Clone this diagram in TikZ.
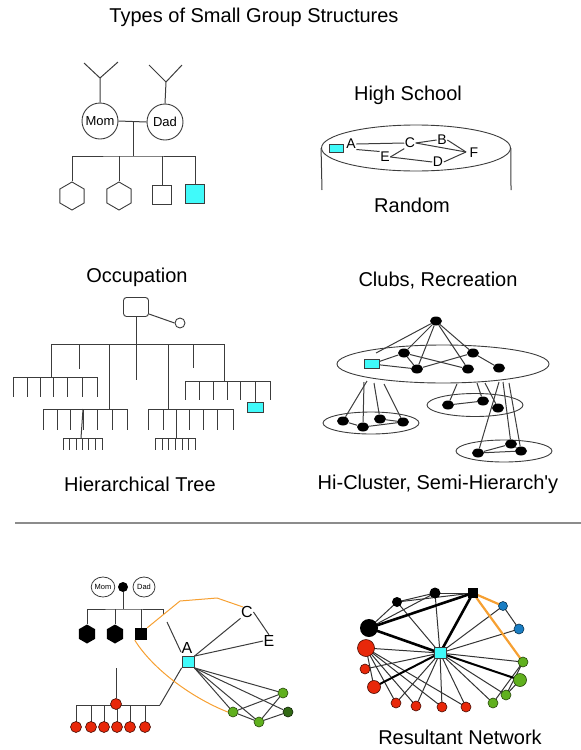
\documentclass[tikz,border=0pt]{standalone}
\usepackage{fontspec}
\setmainfont{Liberation Sans}
\usetikzlibrary{shapes.geometric}
\definecolor{cyb}{RGB}{64,250,250}
\definecolor{redn}{RGB}{232,40,10}
\definecolor{grn}{RGB}{96,176,30}
\definecolor{dgrn}{RGB}{50,105,20}
\definecolor{blun}{RGB}{25,125,195}
\definecolor{orn}{RGB}{246,160,50}
\definecolor{sepg}{RGB}{140,140,140}
\definecolor{lg}{RGB}{60,60,60}
\begin{document}
\begin{tikzpicture}[x=1pt,y=-1pt,
  ln/.style={draw=lg,line width=1pt},
  lbl/.style={font=\fontsize{20}{22}\selectfont,inner sep=0pt},
  pers/.style={circle,draw=lg,line width=0.9pt,minimum size=36pt,inner sep=0pt,font=\fontsize{13}{13}\selectfont},
  spers/.style={ellipse,draw=lg,line width=0.8pt,minimum width=22pt,minimum height=20pt,inner sep=0pt,font=\fontsize{7.5}{8}\selectfont},
  hexa/.style={regular polygon,regular polygon sides=6,shape border rotate=30,draw=lg,line width=0.9pt,minimum size=28pt,inner sep=0pt},
  bhexa/.style={regular polygon,regular polygon sides=6,shape border rotate=30,fill=black,minimum size=19pt,inner sep=0pt},
  sqr/.style={rectangle,draw=lg,line width=0.9pt,minimum size=19pt,inner sep=0pt},
  cbox/.style={rectangle,draw=lg,line width=0.8pt,fill=cyb,inner sep=0pt},
  let/.style={inner sep=0.5pt,font=\fontsize{14}{14}\selectfont},
  blet/.style={inner sep=0.5pt,font=\fontsize{16}{16}\selectfont},
  dotn/.style={ellipse,fill=black,minimum width=12pt,minimum height=9pt,inner sep=0pt},
  ell/.style={ellipse,draw=lg,line width=0.9pt,inner sep=0pt},
  rdot/.style={circle,draw=black!70!redn,line width=0.6pt,fill=redn,inner sep=0pt,minimum size=#1},
  gdot/.style={circle,draw=black!60!grn,line width=0.6pt,fill=grn,inner sep=0pt,minimum size=#1},
  bdot/.style={circle,draw=black!60!blun,line width=0.6pt,fill=blun,inner sep=0pt,minimum size=#1},
  kdot/.style={circle,fill=black,inner sep=0pt,minimum size=#1},
  thn/.style={draw=black!80,line width=1pt},
  thk/.style={draw=black,line width=2.6pt},
  orl/.style={draw=orn,line width=1pt},
  orthk/.style={draw=orn,line width=2.2pt}
]
\useasboundingbox (0,0) rectangle (581,750);

% ---------------- titles ----------------
\node[lbl] (title) at (254,17) {Types of Small Group Structures};
\node[lbl] (hs) at (408,95) {High School};
\node[lbl] (rnd) at (412,205) {Random};
\node[lbl] (occ) at (137,277) {Occupation};
\node[lbl] (clubs) at (438,281) {Clubs, Recreation};
\node[lbl] (htree) at (140,484) {Hierarchical Tree};
\node[lbl] (hic) at (438,484) {Hi-Cluster, Semi-Hierarch\textquotesingle y};
\node[lbl] (resn) at (460,737) {Resultant Network};

% ---------------- family ----------------
\node[pers] (mom) at (100,121) {Mom};
\node[pers] (dad) at (165,122) {Dad};
\coordinate (my) at (100,78);
\coordinate (myl) at (84,63);
\coordinate (myr) at (118,62);
\coordinate (dy) at (166,82);
\coordinate (dyl) at (149,65);
\coordinate (dyr) at (182,65);
\draw[ln] (mom.north) -- (my) -- (myl);
\draw[ln] (my) -- (myr);
\draw[ln] (dad.north) -- (dy) -- (dyl);
\draw[ln] (dy) -- (dyr);
\draw[ln] (mom.east) -- (dad.west);
\coordinate (mj) at (133,121);
\coordinate (sb) at (133,156);
\draw[ln] (mj) -- (sb);
\node[hexa] (h1) at (72,196) {};
\node[hexa] (h2) at (119,196) {};
\node[sqr] (s1) at (162,195) {};
\node[sqr,fill=cyb] (s2) at (195,194) {};
\draw[ln] (h1.north) |- (sb) -| (s2.north);
\draw[ln] (h2.north) -- (h2.north |- sb);
\draw[ln] (s1.north) -- (s1.north |- sb);

% ---------------- high school ----------------
\node[ell,minimum width=189pt,minimum height=46pt] (cyl) at (416,148) {};
\coordinate (cyll) at (322,190);
\coordinate (cylr) at (511,190);
\draw[ln] (cyl.west) -- (cyll);
\draw[ln] (cyl.east) -- (cylr);
\node[cbox,minimum width=14pt,minimum height=8pt] (hc) at (336,148) {};
\node[let] (A) at (351,144) {A};
\node[let] (C) at (410,143) {C};
\node[let] (B) at (442,140) {B};
\node[let] (E) at (385,157) {E};
\node[let] (D) at (438,162) {D};
\node[let] (F) at (474,153) {F};
\coordinate (fp) at (466,152);
\draw[ln] (A.east) -- (C.west);
\draw[ln] (A.south east) -- (E.north west);
\draw[ln] (E.east) -- (C.south west);
\draw[ln] (E.east) -- (D.west);
\draw[ln] (C.east) -- (B.west);
\draw[ln] (C.east) -- (fp);
\draw[ln] (B.east) -- (fp);
\draw[ln] (D.east) -- (fp);

% ---------------- occupation tree ----------------
\node[rectangle,rounded corners=3pt,draw=lg,line width=0.9pt,minimum width=25pt,minimum height=19pt,inner sep=0pt] (boss) at (136,307) {};
\node[circle,draw=lg,line width=0.9pt,minimum size=10pt,inner sep=0pt] (sec) at (180,323) {};
\draw[ln] (boss.east |- 0,314) -- (sec.west);
\draw[ln] (boss.south) -- (136,380);
\draw[ln] (51,344) -- (224,344);
\draw[ln] (51,344) -- (51,377);
\draw[ln] (79,344) -- (79,369);
\draw[ln] (109,344) -- (109,409);
\draw[ln] (168,344) -- (168,409);
\draw[ln] (193,344) -- (193,368);
\draw[ln] (224,344) -- (224,381);
% left level-2
\draw[ln] (13,377) -- (97,377);
\foreach \x in {13,27,40,53,67,82,97} \draw[ln] (\x,377) -- (\x,397);
% right level-2
\draw[ln] (185,381) -- (270,381);
\foreach \x in {185,199,213,227,240,270} \draw[ln] (\x,381) -- (\x,400);
\node[cbox,minimum width=16pt,minimum height=10pt] (ocy) at (255,407) {};
\draw[ln] (255,381) -- (ocy.north);
% mid-left
\draw[ln] (43,409) -- (127,409);
\foreach \x in {43,57,70,83,97,112,127} \draw[ln] (\x,409) -- (\x,430);
\draw[ln] (83,409) -- (81,438);
\draw[ln] (63,438) -- (102,438);
\foreach \x in {63,69,76,82,88,95,102} \draw[ln] (\x,438) -- (\x,450);
% mid-right
\draw[ln] (148,409) -- (233,409);
\foreach \x in {148,163,176,189,203,217,233} \draw[ln] (\x,409) -- (\x,430);
\draw[ln] (176,409) -- (176,438);
\draw[ln] (155,438) -- (195,438);
\foreach \x in {155,162,168,175,182,188,195} \draw[ln] (\x,438) -- (\x,450);

% ---------------- clubs ----------------
\node[ell,minimum width=212pt,minimum height=38pt] (big) at (443,364) {};
\node[ell,minimum width=96pt,minimum height=22pt] (cl1) at (371,423) {};
\node[ell,minimum width=96pt,minimum height=23pt] (cl2) at (475,405) {};
\node[ell,minimum width=96pt,minimum height=22pt] (cl3) at (504,451) {};
\node[dotn] (ct) at (436,321) {};
\node[cbox,minimum width=15pt,minimum height=9pt] (cc) at (372,364) {};
\node[dotn] (c1) at (404,353) {};
\node[dotn] (c2) at (473,353) {};
\node[dotn] (c3) at (417,369) {};
\node[dotn] (c4) at (468,369) {};
\node[dotn] (c5) at (499,368) {};
\coordinate (ca) at (376,353);
\draw[ln] (ct) -- (ca);
\foreach \n in {c1,c2,c3,c4} \draw[ln] (ct) -- (\n);
\draw[ln] (cc) -- (c1);
\draw[ln] (cc) -- (c3);
\draw[ln] (c1) -- (c3);
\draw[ln] (c1) -- (c4);
\draw[ln] (c3) -- (c2);
\draw[ln] (c2) -- (c5);
% left cluster
\node[dotn] (l1) at (343,421) {};
\node[dotn] (l2) at (363,427) {};
\node[dotn] (l3) at (380,419) {};
\node[dotn] (l4) at (403,422) {};
\coordinate (la) at (367,381); \coordinate (lb) at (364,382);
\coordinate (lc) at (374,383); \coordinate (ld) at (384,384);
\draw[ln] (la) -- (l1);
\draw[ln] (lb) -- (l2);
\draw[ln] (lc) -- (l3);
\draw[ln] (ld) -- (l4);
\draw[ln] (l1) -- (l2) -- (l4) -- (l3);
% middle cluster
\node[dotn] (m1) at (448,405) {};
\node[dotn] (m2) at (483,401) {};
\node[dotn] (m3) at (498,408) {};
\coordinate (ma) at (457,384); \coordinate (mb) at (477,383); \coordinate (mc) at (485,383);
\draw[ln] (ma) -- (m1);
\draw[ln] (mb) -- (m2);
\draw[ln] (mc) -- (m3);
\draw[ln] (m1) -- (m2);
% right cluster
\node[dotn] (r1) at (478,453) {};
\node[dotn] (r2) at (511,444) {};
\node[dotn] (r3) at (521,451) {};
\coordinate (ra) at (499,382); \coordinate (rb) at (503,382); \coordinate (rcc) at (509,383);
\draw[ln] (ra) -- (r1);
\draw[ln] (rb) -- (r2);
\draw[ln] (rcc) -- (r3);
\draw[ln] (r1) -- (r2) -- (r3);
\draw[ln] (r1) -- (r3);

% ---------------- separator ----------------
\coordinate (sepl) at (15,523);
\coordinate (sepr) at (581,523);
\draw[draw=sepg,line width=1.2pt] (sepl) -- (sepr);

% ---------------- bottom left ----------------
\node[spers] (bmom) at (103,587) {Mom};
\node[spers] (bdad) at (144,587) {Dad};
\node[kdot=10pt] (bdot) at (123,587) {};
\coordinate (bsb) at (123,609);
\draw[ln] (bdot) -- (bsb);
\node[bhexa] (bh1) at (87,634) {};
\node[bhexa] (bh2) at (115,634) {};
\node[rectangle,fill=black,minimum size=12pt,inner sep=0pt] (bsq) at (141,634) {};
\coordinate (bst) at (163,614);
\draw[ln] (bh1.north) |- (bsb) -| (bst);
\draw[ln] (bh2.north) -- (bh2.north |- bsb);
\draw[ln] (bsq.north) -- (bsq.north |- bsb);
% A, C, E
\node[cbox,minimum width=12pt,minimum height=11pt] (bcy) at (188,662) {};
\node[blet] (bA) at (187,648) {A};
\node[blet] (bC) at (247,612) {C};
\node[blet] (bE) at (269,641) {E};
\draw[ln] (bcy.north east) -- (bC.south west);
\draw[ln] (bcy.north east) -- (bE.west);
\draw[ln] (bC.east) -- (bE.north);
\coordinate (up1) at (167,622);
\coordinate (up2) at (181,652);
\draw[ln] (up1) -- (up2);
% greens
\node[gdot=10pt] (g1) at (233,712) {};
\node[gdot=10pt] (g2) at (259,722) {};
\node[gdot=10pt] (g3) at (283,693) {};
\node[circle,draw=black!70!dgrn,line width=0.6pt,fill=dgrn,inner sep=0pt,minimum size=10pt] (g4) at (288,712) {};
\foreach \n in {g1,g2,g3,g4} \draw[ln] (bcy.south east) -- (\n);
\draw[ln] (g1) -- (g3);
\draw[ln] (g2) -- (g3);
\draw[ln] (g2) -- (g4);
\draw[ln] (g1) -- (g2);
% red tree
\coordinate (rst) at (116,668);
\coordinate (rbl) at (76,705);
\coordinate (rbr) at (160,705);
\draw[ln] (rbl) -- (rbr);
\draw[ln] (rbr) -- (bcy.south west);
\foreach \x/\nm in {76/ra1,91/ra2,104/ra3,117/ra4,130/ra5,145/ra6} {
  \draw[ln] (\x,705) -- (\x,722);
  \node[rdot=11pt] (\nm) at (\x,727) {};
}
\node[rdot=11pt] (rtop) at (116,704) {};
\draw[ln] (rst) -- (rtop);
% orange
\coordinate (o1) at (180,601);
\coordinate (o2) at (217,598);
\coordinate (o3) at (243,607);
\draw[orl] (bsq.north east) -- (o1) -- (o2) -- (o3);
\draw[orl] (bsq.south west) .. controls (152,668) and (190,697) .. (g1.west);

% ---------------- resultant network: edges first ----------------
\coordinate (pb1) at (397,602);
\coordinate (pb2) at (435,593);
\coordinate (psq) at (473,593);
\coordinate (pbb) at (369,628);
\coordinate (prb) at (366,648);
\coordinate (pr1) at (365,669);
\coordinate (pr2) at (374,687);
\coordinate (pr3) at (396,703);
\coordinate (pr4) at (416,706);
\coordinate (pr5) at (442,707);
\coordinate (pr6) at (466,707);
\coordinate (pc) at (440,653);
\coordinate (pl1) at (503,606);
\coordinate (pl2) at (519,629);
\coordinate (pg1) at (523,662);
\coordinate (pg2) at (520,680);
\coordinate (pg3) at (506,695);
\coordinate (pg4) at (493,703);
\draw[thn] (pb1) -- (pb2);
\draw[thn] (pb1) -- (pbb);
\draw[thn] (pb2) -- (pbb);
\draw[thn] (pb2) -- (psq);
\draw[thn] (pb1) -- (psq);
\draw[thn] (pb1) -- (pc);
\draw[thn] (pb2) -- (pc);
\draw[thn] (prb) -- (pc);
\draw[thn] (pr1) -- (pc);
\foreach \n in {pr2,pr3,pr4,pr5,pr6} \draw[thn] (prb) -- (\n);
\foreach \n in {pr3,pr4,pr5,pr6,pl1,pl2,pg1,pg3,pg4} \draw[thn] (pc) -- (\n);
\draw[thn] (pl1) -- (pl2);
\draw[thn] (pg1) -- (pg3);
\draw[thn] (pg1) -- (pg4);
\draw[thn] (pg2) -- (pg3);
\draw[thk] (psq) -- (pbb);
\draw[thk] (psq) -- (pc);
\draw[thk] (pbb) -- (pc);
\draw[thk,line width=2pt] (pc) -- (pr2);
\draw[thk,line width=2pt] (pc) -- (pg2);
\draw[orthk] (psq) -- (pl1);
\draw[orthk] (psq) -- (pg1);
% nodes on top
\node[kdot=10pt] (nb1) at (pb1) {};
\node[kdot=11pt] (nb2) at (pb2) {};
\node[rectangle,fill=black,minimum size=10pt,inner sep=0pt] (nsq) at (psq) {};
\node[kdot=18pt] (nbb) at (pbb) {};
\node[rdot=17pt] (nrb) at (prb) {};
\node[rdot=10pt] (nr1) at (pr1) {};
\node[rdot=13pt] (nr2) at (pr2) {};
\node[rdot=10pt] (nr3) at (pr3) {};
\node[rdot=10pt] (nr4) at (pr4) {};
\node[rdot=10pt] (nr5) at (pr5) {};
\node[rdot=10pt] (nr6) at (pr6) {};
\node[cbox,minimum width=12pt,minimum height=11pt] (nc) at (pc) {};
\node[bdot=9pt] (nl1) at (pl1) {};
\node[bdot=10pt] (nl2) at (pl2) {};
\node[gdot=10pt] (ng1) at (pg1) {};
\node[gdot=13pt] (ng2) at (pg2) {};
\node[gdot=10pt] (ng3) at (pg3) {};
\node[gdot=10pt] (ng4) at (pg4) {};
\end{tikzpicture}
\end{document}
